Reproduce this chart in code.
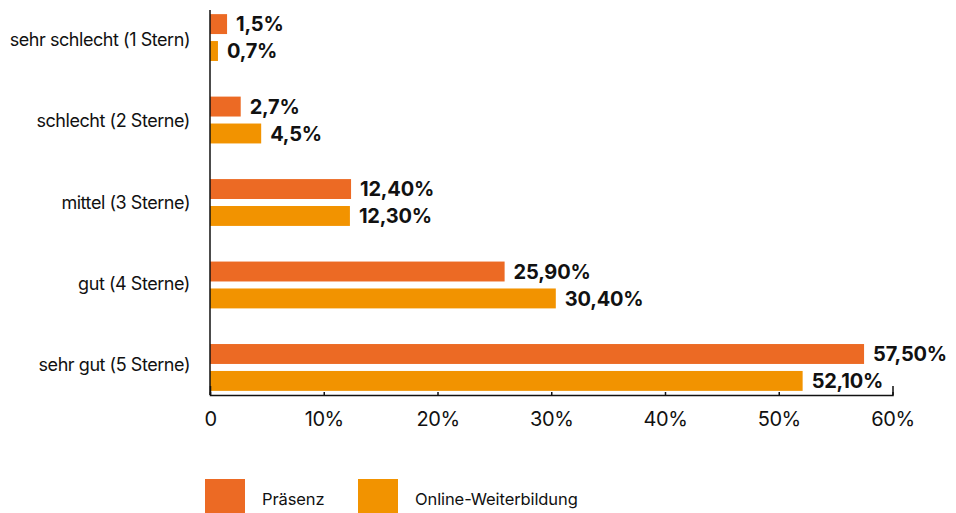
<!DOCTYPE html>
<html>
<head>
<meta charset="utf-8">
<script src="https://cdn.jsdelivr.net/npm/d3@7"></script>
<style>
	body { margin: 0; background: #fff; }
	svg { display: block; font-family: Inter, "Noto Sans", sans-serif; }
</style>
</head>
<body>
<div id="chart"></div>
<script>
///////////////////////////////////////////////////////////////////////////
//////////////////////////// data /////////////////////////////////////////
///////////////////////////////////////////////////////////////////////////

const categories = [
	"sehr schlecht (1 Stern)",
	"schlecht (2 Sterne)",
	"mittel (3 Sterne)",
	"gut (4 Sterne)",
	"sehr gut (5 Sterne)"
];
const seriesNames = ["Präsenz", "Online-Weiterbildung"];
const praesenz = [1.5, 2.7, 12.4, 25.9, 57.5];
const online = [0.7, 4.5, 12.3, 30.4, 52.1];
const praesenzLabels = ["1,5%", "2,7%", "12,40%", "25,90%", "57,50%"];
const onlineLabels = ["0,7%", "4,5%", "12,30%", "30,40%", "52,10%"];
const xTicks = [0, 10, 20, 30, 40, 50, 60];
const colors = ["#ec6a24", "#f29300"];

const createChart = () => {
	const dimensions = {
		width: 956,
		height: 513,
		margin: { top: 10, right: 64, bottom: 118, left: 210 }
	};
	dimensions.boundedWidth =
		dimensions.width - dimensions.margin.left - dimensions.margin.right;
	dimensions.boundedHeight =
		dimensions.height - dimensions.margin.top - dimensions.margin.bottom;

	const svg = d3
		.select("#chart")
		.append("svg")
		.attr("width", dimensions.width)
		.attr("height", dimensions.height);

	const bounds = svg
		.append("g")
		.attr("transform", `translate(${dimensions.margin.left},${dimensions.margin.top})`);

	// rows
	const rows = categories.map((c, i) => ({
		category: c,
		values: [
			{ key: 0, value: praesenz[i], label: praesenzLabels[i] },
			{ key: 1, value: online[i], label: onlineLabels[i] }
		]
	}));

	//////////////////////////// scales ///////////////////////////////////

	const xScale = d3
		.scaleLinear()
		.domain([0, 60])
		.range([0, 682.5]);

	const yScale = d3
		.scaleBand()
		.domain(categories)
		.range([0, dimensions.boundedHeight])
		.paddingInner(0.432)
		.paddingOuter(0.05);

	const subScale = d3
		.scaleBand()
		.domain([0, 1])
		.range([0, yScale.bandwidth()])
		.paddingInner(0.26);

	// category labels sit on a slightly tighter spacing than the bar groups
	const mid = yScale.bandwidth() / 2;
	const labelScale = d3
		.scalePoint()
		.domain(categories)
		.range([
			yScale(categories[0]) + mid + 2,
			yScale(categories[categories.length - 1]) + mid - 2.6
		]);

	//////////////////////////// bars ///////////////////////////////////

	const groups = bounds
		.selectAll(".group")
		.data(rows)
		.enter()
		.append("g")
		.attr("class", "group")
		.attr("transform", (d) => `translate(0,${yScale(d.category)})`);

	groups
		.selectAll("rect")
		.data((d) => d.values)
		.enter()
		.append("rect")
		.attr("x", 0)
		.attr("y", (d) => subScale(d.key))
		.attr("width", (d) => xScale(d.value))
		.attr("height", subScale.bandwidth())
		.attr("fill", (d) => colors[d.key]);

	groups
		.selectAll(".value")
		.data((d) => d.values)
		.enter()
		.append("text")
		.attr("class", "value")
		.attr("x", (d) => xScale(d.value) + 9)
		.attr("y", (d) => subScale(d.key) + subScale.bandwidth() / 2)
		.attr("dy", "0.36em")
		.style("font-size", "20px")
		.style("font-weight", "bold")
		.style("letter-spacing", "-0.2px")
		.style("fill", "#111")
		.text((d) => d.label);

	//////////////////////////// axes ///////////////////////////////////

	// category labels
	bounds
		.selectAll(".cat")
		.data(categories)
		.enter()
		.append("text")
		.attr("class", "cat")
		.attr("x", -20)
		.attr("y", (d) => labelScale(d))
		.attr("dy", "0.35em")
		.style("text-anchor", "end")
		.style("font-size", "18px")
		.style("letter-spacing", "-0.45px")
		.style("fill", "#111")
		.text((d) => d);

	// y axis line
	bounds
		.append("line")
		.attr("x1", 0)
		.attr("x2", 0)
		.attr("y1", 0)
		.attr("y2", dimensions.boundedHeight)
		.attr("stroke", "#111")
		.attr("stroke-width", 1.5);

	const xAxisGenerator = d3
		.axisBottom(xScale)
		.tickValues(xTicks)
		.tickSizeInner(-3)
		.tickSizeOuter(-9)
		.tickPadding(17)
		.tickFormat((d) => (d === 0 ? "0" : d + "%"));

	const xAxis = bounds
		.append("g")
		.attr("transform", `translate(0,${dimensions.boundedHeight})`)
		.call(xAxisGenerator);

	xAxis.selectAll("path, line").attr("stroke", "#111").attr("stroke-width", 1.5);
	xAxis
		.selectAll("text")
		.style("font-family", "Inter, \"Noto Sans\", sans-serif")
		.style("font-size", "20px")
		.style("letter-spacing", "-0.4px")
		.style("fill", "#111");

	//////////////////////////// legend ///////////////////////////////////

	const legendX = [205, 358];
	const legend = svg
		.selectAll(".legend")
		.data(seriesNames)
		.enter()
		.append("g")
		.attr("class", "legend")
		.attr("transform", (d, i) => `translate(${legendX[i]},479)`);

	legend
		.append("rect")
		.attr("width", 40)
		.attr("height", 34)
		.attr("fill", (d, i) => colors[i]);

	legend
		.append("text")
		.attr("x", 57)
		.attr("y", 20)
		.attr("dy", "0.35em")
		.style("font-size", "16.5px")
		.style("letter-spacing", "-0.1px")
		.style("fill", "#111")
		.text((d) => d);
};

createChart();
</script>
</body>
</html>
